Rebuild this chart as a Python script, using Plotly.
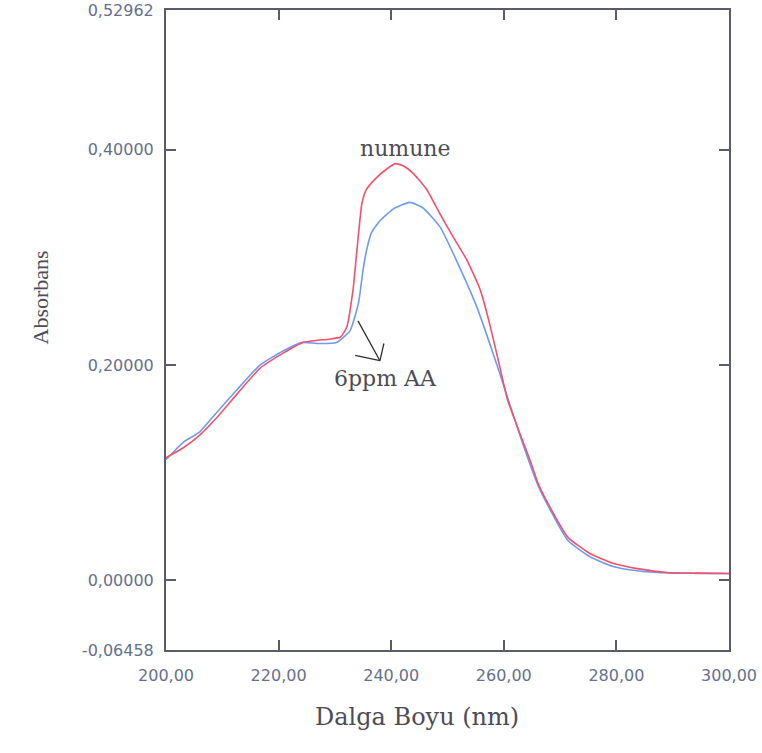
import plotly.graph_objects as go

# Wavelength (nm) and absorbance readings for the two spectra
sample_wl = [200, 203, 206, 209, 212.6, 216.7, 220.8, 224.3, 227, 229.1, 231, 232.1, 233.2,
             233.9, 234.8, 235.6, 237.4, 239.2, 240.7, 242.1, 243.9, 246.3, 248.7, 251.0,
             253.5, 255.8, 257.5, 259.3, 260.7, 262.9, 264.7, 266.1, 268.2, 271.4, 275.3,
             279.4, 283.7, 289.0, 294, 300]
sample_abs = [0.114, 0.123, 0.135, 0.151, 0.173, 0.197, 0.211, 0.221, 0.223, 0.224, 0.226,
              0.235, 0.269, 0.306, 0.350, 0.363, 0.374, 0.382, 0.387, 0.385, 0.378, 0.363,
              0.340, 0.319, 0.297, 0.270, 0.238, 0.198, 0.167, 0.136, 0.111, 0.090, 0.068,
              0.040, 0.025, 0.016, 0.011, 0.0074, 0.0068, 0.0065]

std_wl = [200, 203, 206, 209, 212.6, 216.7, 220.8, 224.3, 226.8, 230.3, 232.7, 234.2, 235.0,
          235.6, 236.5, 238.0, 240.4, 243.3, 245.6, 248.7, 251.6, 255.2, 259.3, 262.9,
          266.1, 268.2, 271.4, 275.3, 279.4, 283.7, 289.0, 294, 300]
std_abs = [0.112, 0.128, 0.138, 0.156, 0.177, 0.200, 0.213, 0.221, 0.220, 0.221, 0.232,
           0.258, 0.288, 0.306, 0.323, 0.334, 0.345, 0.351, 0.346, 0.328, 0.297, 0.254,
           0.192, 0.134, 0.088, 0.066, 0.037, 0.022, 0.013, 0.009, 0.007, 0.0066, 0.0065]

x_ticks = [200, 220, 240, 260, 280, 300]
x_tick_text = ["200,00", "220,00", "240,00", "260,00", "280,00", "300,00"]
y_ticks = [-0.06458, 0.0, 0.2, 0.4, 0.52962]
y_tick_text = ["-0,06458", "0,00000", "0,20000", "0,40000", "0,52962"]

axis_col = "#5b5b6e"
tick_font = dict(family="DejaVu Sans", size=16, color="#66708c")
serif = "DejaVu Serif"
text_col = "#4c4c58"

fig = go.Figure()
fig.add_trace(go.Scatter(x=std_wl, y=std_abs, mode="lines", name="6ppm AA",
                         line=dict(color="#6f9bef", width=1.6, shape="spline", smoothing=0.5)))
fig.add_trace(go.Scatter(x=sample_wl, y=sample_abs, mode="lines", name="numune",
                         line=dict(color="#f5506c", width=1.6, shape="spline", smoothing=0.5)))

fig.update_xaxes(range=[200, 300], tickvals=x_ticks, ticktext=x_tick_text,
                 ticks="inside", ticklen=10, tickwidth=2, tickcolor=axis_col,
                 showline=True, linecolor=axis_col, linewidth=2, mirror="ticks",
                 showgrid=False, zeroline=False, tickfont=tick_font,
                 ticklabelstandoff=10, automargin=False)
fig.update_yaxes(range=[-0.06458, 0.52962], tickvals=y_ticks, ticktext=y_tick_text,
                 ticks="inside", ticklen=10, tickwidth=2, tickcolor=axis_col,
                 showline=True, linecolor=axis_col, linewidth=2, mirror="ticks",
                 showgrid=False, zeroline=False, tickfont=tick_font,
                 ticklabelstandoff=7, automargin=False)

fig.add_annotation(x=242.5, y=0.401, text="numune", showarrow=False,
                   font=dict(family=serif, size=22, color=text_col))
fig.add_annotation(x=238.9, y=0.1875, text="6ppm AA", showarrow=False,
                   font=dict(family=serif, size=22, color=text_col))

# pointer arrow: shaft plus two open head strokes
arrow_col = "#2e2e36"
for x0, y0, x1, y1 in [(234.1, 0.241, 238.0, 0.204),
                       (238.0, 0.204, 233.6, 0.209),
                       (238.0, 0.204, 238.7, 0.220)]:
    fig.add_shape(type="line", x0=x0, y0=y0, x1=x1, y1=y1,
                  line=dict(color=arrow_col, width=1.3))

fig.add_annotation(xref="paper", yref="paper", x=0.446, y=0, yshift=-83,
                   text="Dalga Boyu (nm)", showarrow=False,
                   font=dict(family=serif, size=24, color=text_col))
fig.add_annotation(xref="paper", yref="paper", x=0, xshift=-141, y=0.55,
                   text="Absorbans", textangle=-90, showarrow=False,
                   font=dict(family="Liberation Serif", size=22, color=text_col))

fig.update_layout(width=762, height=753, showlegend=False,
                  margin=dict(l=166, r=33, t=10, b=103),
                  paper_bgcolor="white", plot_bgcolor="white")

fig.write_html("out.html")
